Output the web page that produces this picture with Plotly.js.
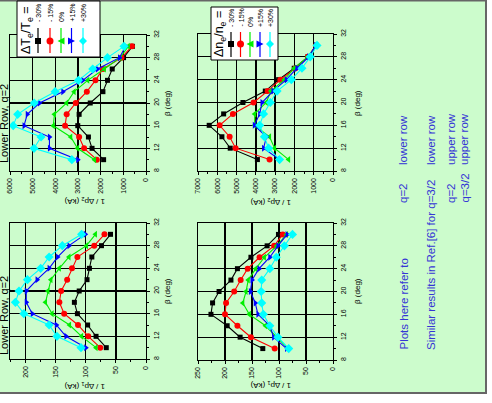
<!DOCTYPE html>
<html><head><meta charset="utf-8">
<script src="https://cdn.plot.ly/plotly-3.0.1.min.js"></script>
<style>html,body{margin:0;padding:0;background:#fff;} #chart{width:492px;height:403px;}</style>
</head><body><div id="chart"></div>
<script>
const W = 492, H = 403;
const beta = [10, 12, 14, 16, 18, 20, 22, 24, 26, 28, 30];
const seriesLabels = ['- 30%', '- 15%', '0%', '+15%', '+30%'];

// Top-left: 1/Δp2 vs β, ΔTe/Te variation
const A_m30 = [1870, 2380, 2540, 3010, 2950, 2460, 1900, 1700, 1490, 990, 600];
const A_m15 = [2170, 2730, 2950, 3570, 3500, 3100, 2610, 2230, 1900, 1080, 620];
const A_0   = [2270, 3020, 3320, 4090, 4040, 3500, 3170, 2570, 1840, 1140, 780];
const A_p15 = [3010, 4260, 4260, 5380, 5240, 4700, 3670, 2790, 2140, 1170, 900];
const A_p30 = [3270, 4940, 4630, 5860, 5660, 4930, 4010, 2980, 2350, 1700, 970];
// Top-right: 1/Δp2 vs β, Δne/ne variation
const B_m30 = [3920, 5330, 5760, 6420, 5670, 4670, 3510, 2820, 2010, 1300, 870];
const B_m15 = [3290, 5050, 5360, 5880, 5190, 4120, 3390, 2730, 1950, 1300, 870];
const B_0   = [2300, 3030, 3290, 4060, 4060, 3460, 3220, 2520, 2010, 1300, 850];
const B_p15 = [2770, 3600, 3450, 4080, 3800, 3680, 3110, 2420, 1870, 1260, 900];
const B_p30 = [2770, 3340, 3560, 3800, 3600, 3250, 2900, 2160, 1610, 1180, 830];
// Bottom-left: 1/Δp1 vs β, ΔTe/Te variation
const C_m30 = [66, 83, 97, 114, 119, 111, 98, 94, 90, 74, 59];
const C_m15 = [76, 96, 113, 136, 144, 141, 131, 123, 114, 86, 69];
const C_0   = [83, 107, 127, 156, 167, 163, 158, 144, 128, 99, 84];
const C_p15 = [100, 133, 149, 189, 199, 199, 181, 161, 147, 128, 101];
const C_p30 = [108, 148, 161, 203, 217, 211, 197, 175, 161, 139, 107];
// Bottom-right: 1/Δp1 vs β, Δne/ne variation
const D_m30 = [130, 172, 196, 226, 223, 211, 189, 177, 152, 122, 101];
const D_m15 = [108, 152, 177, 200, 198, 183, 171, 158, 136, 109, 93];
const D_0   = [83, 104, 125, 155, 167, 161, 157, 143, 127, 104, 86];
const D_p15 = [86, 110, 117, 139, 144, 153, 150, 137, 117, 102, 85];
const D_p30 = [82, 102, 117, 129, 132, 133, 132, 117, 105, 90, 75];

const colors = ['#000000', '#ff0000', '#00ee00', '#0000ff', '#00ffff'];
const symbols = ['square', 'circle', 'triangle-left', 'triangle-right', 'diamond'];
const msizes = [5, 6, 6, 6, 7];
const FONT = 'Liberation Sans, Arial, sans-serif';

const panels = [
  {sets: [A_m30, A_m15, A_0, A_p15, A_p30], xa: 'x',  ya: 'y',  xd: [10, 146], yd: [35, 171], max: 6000, dt: 1000},
  {sets: [B_m30, B_m15, B_0, B_p15, B_p30], xa: 'x2', ya: 'y2', xd: [198, 333], yd: [34, 171], max: 7000, dt: 1000},
  {sets: [C_m30, C_m15, C_0, C_p15, C_p30], xa: 'x3', ya: 'y3', xd: [10, 146], yd: [223, 359], max: 226, dt: 50},
  {sets: [D_m30, D_m15, D_0, D_p15, D_p30], xa: 'x4', ya: 'y4', xd: [198, 333], yd: [223, 360], max: 250, dt: 50}
];

const px = x => x / W;
const py = y => 1 - y / H;

const traces = [];
const layout = {
  width: W, height: H,
  margin: {l: 0, r: 0, t: 0, b: 0},
  paper_bgcolor: '#ffffff',
  plot_bgcolor: 'rgba(0,0,0,0)',
  showlegend: false,
  font: {family: FONT, color: '#000'},
  shapes: [], annotations: []
};

panels.forEach((p, i) => {
  p.sets.forEach((vals, k) => {
    traces.push({
      type: 'scatter', mode: 'lines+markers',
      x: vals, y: beta, xaxis: p.xa, yaxis: p.ya,
      line: {color: colors[k], width: 1.1},
      marker: {symbol: symbols[k], size: msizes[k], color: colors[k]},
      hoverinfo: 'skip'
    });
  });
  const xn = i === 0 ? 'xaxis' : 'xaxis' + (i + 1);
  const yn = i === 0 ? 'yaxis' : 'yaxis' + (i + 1);
  layout[xn] = {
    domain: [px(p.xd[0]), px(p.xd[1])], range: [p.max, 0], tick0: 0, dtick: p.dt,
    anchor: p.ya, tickangle: -90, ticks: 'outside', ticklen: 3, tickwidth: 1, tickcolor: '#000',
    tickfont: {size: 7, color: '#000', family: FONT},
    showgrid: true, gridcolor: '#000', gridwidth: 1.3,
    showline: true, linecolor: '#000', linewidth: 1.3, mirror: true, zeroline: false,
    minor: {ticks: 'outside', ticklen: 2, dtick: p.dt / 2, tick0: 0, tickcolor: '#000', showgrid: false},
    fixedrange: true
  };
  layout[yn] = {
    domain: [py(p.yd[1]), py(p.yd[0])], range: [8, 32], tick0: 8, dtick: 4,
    anchor: p.xa, side: 'right', tickangle: -90, ticks: 'outside', ticklen: 3, tickwidth: 1, tickcolor: '#000',
    tickfont: {size: 7, color: '#000', family: FONT},
    showgrid: true, gridcolor: '#000', gridwidth: 1.3,
    showline: true, linecolor: '#000', linewidth: 1.3, mirror: true, zeroline: false,
    minor: {ticks: 'outside', ticklen: 2, dtick: 2, tick0: 8, tickcolor: '#000', showgrid: false},
    fixedrange: true
  };
});

// background frame
layout.shapes.push({type: 'rect', xref: 'paper', yref: 'paper', layer: 'below',
  x0: -0.02, x1: px(486), y0: py(393), y1: py(0.5),
  fillcolor: '#ccfccc', line: {color: '#666666', width: 2}});

function ann(text, x, y, opts) {
  layout.annotations.push(Object.assign({
    text: text, xref: 'paper', yref: 'paper', x: px(x), y: py(y),
    showarrow: false, xanchor: 'center', yanchor: 'middle', textangle: -90,
    font: {size: 8, color: '#000', family: FONT}
  }, opts || {}));
}

// axis titles
ann('β (deg)', 167, 103);
ann('β (deg)', 357, 103);
ann('β (deg)', 167, 291);
ann('β (deg)', 357, 291);
ann('1 / Δp<sub>2</sub> (kA)', 85, 201, {textangle: 180});
ann('1 / Δp<sub>2</sub> (kA)', 271, 202, {textangle: 180});
ann('1 / Δp<sub>1</sub> (kA)', 85, 386, {textangle: 180});
ann('1 / Δp<sub>1</sub> (kA)', 271, 385, {textangle: 180});
ann('Lower Row, q=2', 4, 124, {font: {size: 11, color: '#000', family: FONT}});
ann('Lower Row, q=2', 4, 316, {font: {size: 11, color: '#000', family: FONT}});

// blue notes
const BLUE = '#3535d5';
const bf = {size: 11.5, color: BLUE, family: FONT};
ann('Plots here refer to', 403, 352, {yanchor: 'bottom', font: bf});
ann('q=2', 403, 205, {yanchor: 'bottom', font: bf});
ann('lower row', 403, 167, {yanchor: 'bottom', font: bf});
ann('Similar results in Ref.[6] for q=3/2', 431, 352, {yanchor: 'bottom', font: bf});
ann('lower row', 431, 167, {yanchor: 'bottom', font: bf});
ann('q=2', 451, 205, {yanchor: 'bottom', font: bf});
ann('upper row', 451, 167, {yanchor: 'bottom', font: bf});
ann('q=3/2', 464, 205, {yanchor: 'bottom', font: bf});
ann('upper row', 464, 167, {yanchor: 'bottom', font: bf});

// legends
function markerShape(k, cx, cy) {
  const c = colors[k];
  const P = (x, y) => px(x) + ',' + py(y);
  if (k === 0) return {type: 'rect', xref: 'paper', yref: 'paper', x0: px(cx - 3), x1: px(cx + 3), y0: py(cy + 3), y1: py(cy - 3), fillcolor: c, line: {width: 0}};
  if (k === 1) return {type: 'circle', xref: 'paper', yref: 'paper', x0: px(cx - 3.5), x1: px(cx + 3.5), y0: py(cy + 3.5), y1: py(cy - 3.5), fillcolor: c, line: {width: 0}};
  let path;
  if (k === 2) path = 'M' + P(cx - 3.5, cy) + 'L' + P(cx + 3.5, cy - 3.5) + 'L' + P(cx + 3.5, cy + 3.5) + 'Z';
  else if (k === 3) path = 'M' + P(cx + 3.5, cy) + 'L' + P(cx - 3.5, cy - 3.5) + 'L' + P(cx - 3.5, cy + 3.5) + 'Z';
  else path = 'M' + P(cx, cy - 4) + 'L' + P(cx + 4, cy) + 'L' + P(cx, cy + 4) + 'L' + P(cx - 4, cy) + 'Z';
  return {type: 'path', xref: 'paper', yref: 'paper', path: path, fillcolor: c, line: {width: 0}};
}
function legend(box, titleText, tx, ty, xs, lineY, markY, labY) {
  layout.shapes.push({type: 'rect', xref: 'paper', yref: 'paper', x0: px(box[0]), x1: px(box[1]), y0: py(box[3]), y1: py(box[2]),
    fillcolor: '#ffffff', line: {color: '#000', width: 1}});
  ann(titleText, tx, ty, {font: {size: 12.5, color: '#000', family: FONT}});
  xs.forEach((x, k) => {
    layout.shapes.push({type: 'line', xref: 'paper', yref: 'paper', x0: px(x), x1: px(x), y0: py(lineY[0]), y1: py(lineY[1]),
      line: {color: colors[k], width: 1.2}});
    layout.shapes.push(markerShape(k, x, markY));
    ann(seriesLabels[k], x, labY, {yanchor: 'bottom', font: {size: 7, color: '#000', family: FONT}});
  });
}
legend([17, 100, 1, 57], 'ΔT<sub>e</sub>/T<sub>e</sub> =', 27, 30, [38, 50, 61, 71.5, 83], [28, 53], 41, 24);
legend([211, 278, 7, 60], 'Δn<sub>e</sub>/n<sub>e</sub> =', 220, 34, [231, 240.5, 250, 260, 270], [32, 57], 44, 29);

Plotly.newPlot('chart', traces, layout, {displayModeBar: false, staticPlot: true});
</script>
</body></html>
